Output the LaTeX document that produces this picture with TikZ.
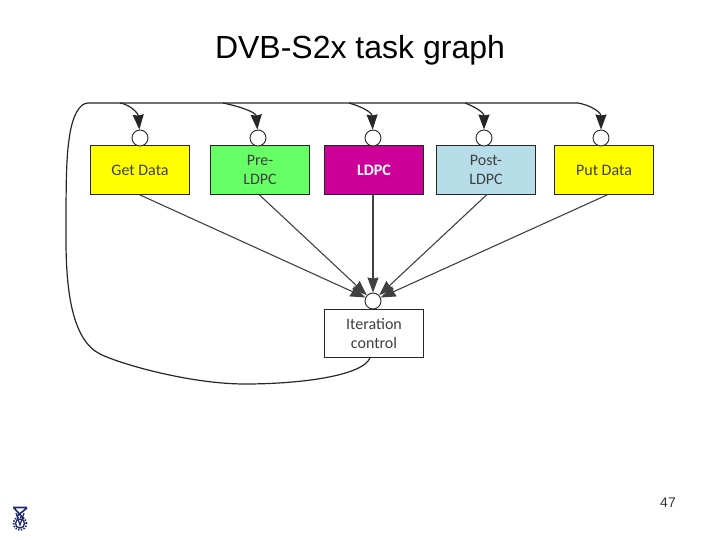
\documentclass[tikz,border=0pt]{standalone}
\usepackage{fontspec}
\setmainfont{Liberation Sans}
\newfontfamily\boxfont{Carlito}
\usetikzlibrary{arrows.meta,positioning}
\definecolor{boxyellow}{HTML}{FFFF00}
\definecolor{boxgreen}{HTML}{66FF66}
\definecolor{boxmagenta}{HTML}{CC0099}
\definecolor{boxblue}{HTML}{B7DDE8}
\definecolor{boxtext}{HTML}{3F3F3F}
\definecolor{logoblue}{HTML}{1F2A6B}
\begin{document}
\begin{tikzpicture}[
        x=1pt,y=-1pt,
        task/.style={draw=black!85,line width=1.2pt,minimum width=99pt,minimum height=48.5pt,inner sep=0pt,
            align=center,text=boxtext,font=\boxfont\fontsize{16}{19.5}\selectfont},
        port/.style={circle,draw=black!85,line width=0.9pt,fill=white,minimum size=16pt,inner sep=0pt},
        into/.style={draw=black!75,line width=1.1pt,-{Stealth[length=15pt,width=11pt,inset=1pt]}},
        back/.style={draw=black!85,line width=1.2pt},
        backin/.style={back,-{Stealth[length=15pt,width=11pt,inset=1pt]}}
    ]
    \useasboundingbox (0,0) rectangle (720,540);

    \node[font=\fontsize{32}{36}\selectfont] (title) at (360,50) {DVB-S2x task graph};
    \node[font=\fontsize{14}{16}\selectfont,text=black!80] (page) at (668,503) {47};

    % tasks
    \node[task,fill=boxyellow] (getdata) at (140,170) {Get Data};
    \node[task,fill=boxgreen] (preldpc) at (260,170) {Pre-\\LDPC};
    \node[task,fill=boxmagenta,text=white,font=\boxfont\bfseries\fontsize{16}{19.5}\selectfont] (ldpc) at (374,170) {LDPC};
    \node[task,fill=boxblue] (postldpc) at (486,170) {Post-\\LDPC};
    \node[task,fill=boxyellow] (putdata) at (604,170) {Put Data};
    \node[task,fill=white] (iter) at (374,333.5) {Iteration\\control};

    % ports
    \node[port] (pget) at (140,138) {};
    \node[port] (ppre) at (258,138) {};
    \node[port] (pldpc) at (373,138) {};
    \node[port] (ppost) at (484,138) {};
    \node[port] (pput) at (601,138) {};
    \node[port] (piter) at (373,301) {};

    % arrows into iteration control
    \coordinate (agetdata) at (139,194.5);
    \coordinate (apreldpc) at (259,194.5);
    \coordinate (apostldpc) at (487,194.5);
    \coordinate (aputdata) at (608,194.5);
    \draw[into] (agetdata) -- (piter);
    \draw[into] (apreldpc) -- (piter);
    \draw[into] (ldpc.south -| piter) -- (piter);
    \draw[into] (apostldpc) -- (piter);
    \draw[into] (aputdata) -- (piter);

    % feedback loop
    \coordinate (bstart) at (370,358);
    \coordinate (bbottom) at (245,384);
    \coordinate (bleft) at (66,240);
    \coordinate (bcorner) at (88,103);
    \coordinate (bget) at (120,103);
    \coordinate (bpre) at (223,103);
    \coordinate (bldpc) at (349,103);
    \coordinate (bpost) at (465,103);
    \coordinate (bput) at (578,103);
    \draw[back] (bstart) .. controls (362,376) and (300,384) .. (bbottom)
        .. controls (190,384) and (120,364) .. (100,354)
        .. controls (72,340) and (66,290) .. (bleft)
        .. controls (66,190) and (66,160) .. (69,140)
        .. controls (72,115) and (80,103) .. (bcorner) -- (bput);
    \draw[backin] (bget) .. controls (128,104) and (138,112) .. (pget);
    \draw[backin] (bpre) .. controls (238,106) and (256,112) .. (ppre);
    \draw[backin] (bldpc) .. controls (360,106) and (372,112) .. (pldpc);
    \draw[backin] (bpost) .. controls (473,106) and (484,112) .. (ppost);
    \draw[backin] (bput) .. controls (590,105) and (601,112) .. (pput);

    % logo
    \draw[logoblue,line width=1.6pt] (13,507.5) -- (27,507.5) (14,508) -- (24,519) (27,508) -- (17,516);
    \draw[logoblue,line width=1.2pt] (16,513) -- (20,525) -- (24,513);
    \draw[logoblue,line width=1.3pt] (20,523.5) circle (4.5pt);
    \draw[logoblue,line width=1.8pt,dash pattern=on 1.4pt off 1.4pt] (20,523.5) circle (6.4pt);
\end{tikzpicture}
\end{document}
